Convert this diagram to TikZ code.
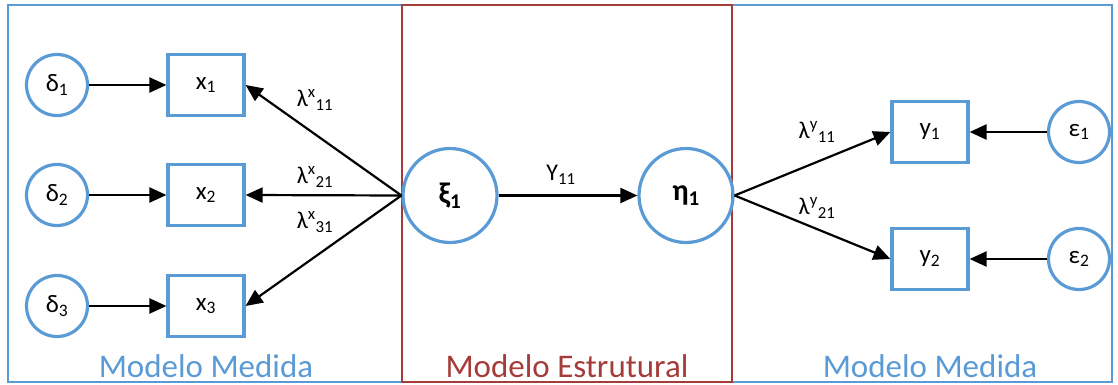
\documentclass[tikz,border=0pt]{standalone}
\usepackage{fontspec}
\setmainfont{Carlito}
\usetikzlibrary{arrows.meta}
\definecolor{mblue}{RGB}{91,155,213}
\definecolor{mred}{RGB}{165,60,58}
\tikzset{
  errc/.style={circle,draw=mblue,line width=3.2pt,minimum size=61pt,inner sep=0pt,font=\fontsize{25}{27}\selectfont},
  latc/.style={circle,draw=mblue,line width=3.2pt,minimum size=94pt,inner sep=0pt,font=\fontsize{30}{32}\selectfont\bfseries},
  obs/.style={rectangle,draw=mblue,line width=3.2pt,minimum width=76pt,minimum height=61pt,inner sep=0pt,font=\fontsize{25}{27}\selectfont},
  conn/.style={line width=2.2pt,-{Triangle[length=17pt,width=15pt]}},
  lab/.style={font=\fontsize{24}{26}\selectfont,inner sep=0pt},
  region/.style={font=\fontsize{33}{35}\selectfont,anchor=base,inner sep=0pt}
}
\begin{document}
\begin{tikzpicture}[x=1pt,y=-1pt]
\useasboundingbox (0,0) rectangle (1118,385);
\draw[mblue,line width=2.4pt] (8,5) rectangle (1112,382);
\draw[mred,line width=2.4pt] (402,5) rectangle (732,382);

\node[errc] (d1) at (57,85) {δ\textsubscript{1}};
\node[errc] (d2) at (57,195) {δ\textsubscript{2}};
\node[errc] (d3) at (57,306) {δ\textsubscript{3}};
\node[obs] (x1) at (206,85) {x\textsubscript{1}};
\node[obs] (x2) at (206,195) {x\textsubscript{2}};
\node[obs] (x3) at (206,306) {x\textsubscript{3}};
\node[latc] (xi) at (450,195.5) {ξ\textsubscript{1}};
\node[latc] (eta) at (686,195.5) {η\textsubscript{1}};
\node[obs] (y1) at (930,132) {y\textsubscript{1}};
\node[obs] (y2) at (930,259) {y\textsubscript{2}};
\node[errc] (e1) at (1079,132) {ε\textsubscript{1}};
\node[errc] (e2) at (1079,259) {ε\textsubscript{2}};

\draw[conn] (d1) -- (x1);
\draw[conn] (d2) -- (x2);
\draw[conn] (d3) -- (x3);
\draw[conn] (xi.west) -- (x1.east);
\draw[conn] (xi.west) -- (x2.east);
\draw[conn] (xi.west) -- (x3.east);
\draw[conn] (xi) -- (eta);
\draw[conn] (eta.east) -- (y1.west);
\draw[conn] (eta.east) -- (y2.west);
\draw[conn] (e1) -- (y1);
\draw[conn] (e2) -- (y2);

\node[lab] (l11) at (315,100) {λ\textsuperscript{x}\textsubscript{11}};
\node[lab] (l21) at (315,177) {λ\textsuperscript{x}\textsubscript{21}};
\node[lab] (l31) at (315,222) {λ\textsuperscript{x}\textsubscript{31}};
\node[lab] (g11) at (561,175) {Υ\textsubscript{11}};
\node[lab] (ly11) at (817,132) {λ\textsuperscript{y}\textsubscript{11}};
\node[lab] (ly21) at (817,208) {λ\textsuperscript{y}\textsubscript{21}};

\node[region,text=mblue] (mm1) at (206,377) {Modelo Medida};
\node[region,text=mred] (me) at (567,377) {Modelo Estrutural};
\node[region,text=mblue] (mm2) at (930,377) {Modelo Medida};
\end{tikzpicture}
\end{document}
